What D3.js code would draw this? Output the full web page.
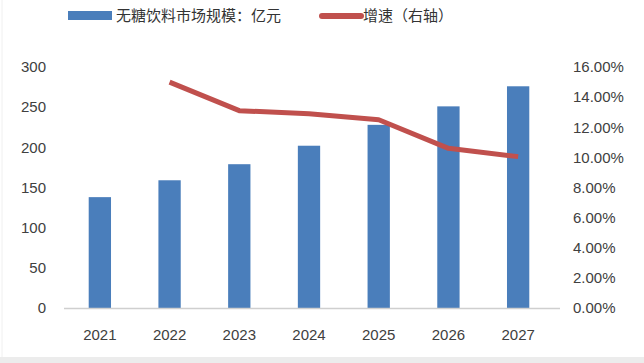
<!DOCTYPE html>
<html>
<head>
<meta charset="utf-8">
<script src="https://cdn.jsdelivr.net/npm/d3@7"></script>
<style>
  body { margin: 0; background: #fff; }
  svg { display: block; }
</style>
</head>
<body>
<div id="container"></div>
<script>
let w = 644;
let h = 363;

// data
let years = ["2021", "2022", "2023", "2024", "2025", "2026", "2027"];
let marketSize = [138, 159, 179, 202, 228, 251, 276];           // 亿元
let growthYears = ["2022", "2023", "2024", "2025", "2026", "2027"];
let growthRate = [0.150, 0.131, 0.129, 0.125, 0.106, 0.1005];
let leftTicks = [0, 50, 100, 150, 200, 250, 300];
let rightTicks = [0, 0.02, 0.04, 0.06, 0.08, 0.10, 0.12, 0.14, 0.16];

let viz = d3.select("#container")
  .append("svg")
    .attr("width", w)
    .attr("height", h)
    .style("background-color", "white");

// faint frame like the screenshot
viz.append("rect").attr("x", 0).attr("y", 357).attr("width", w).attr("height", 6).attr("fill", "#ececec");
viz.append("line").attr("x1", 2).attr("x2", 2).attr("y1", 0).attr("y2", 357).attr("stroke", "#f0f0f0");

let plotTop = 67;
let baseY = 308;

let xScale = d3.scaleBand().domain(years).range([65, 553]).paddingInner(0.68).paddingOuter(0.34);
let yScale = d3.scaleLinear().domain([0, 300]).range([baseY, plotTop]);
let y2Scale = d3.scaleLinear().domain([0, 0.16]).range([baseY, plotTop]);

let tickFont = "'Liberation Sans', Arial, sans-serif";

// bars
viz.append("g").selectAll("rect")
  .data(years)
  .enter()
  .append("rect")
    .attr("x", function(d){ return xScale(d); })
    .attr("y", function(d, i){ return yScale(marketSize[i]); })
    .attr("width", xScale.bandwidth())
    .attr("height", function(d, i){ return baseY - yScale(marketSize[i]); })
    .attr("fill", "#4a7ebb");

// baseline
viz.append("line")
  .attr("x1", 64).attr("x2", 560)
  .attr("y1", baseY + 0.5).attr("y2", baseY + 0.5)
  .attr("stroke", "#cfcfcf").attr("stroke-width", 1.5);

// left axis
let yAxis = d3.axisLeft(yScale).tickValues(leftTicks).tickSize(0).tickPadding(0);
let yAxisGroup = viz.append("g").attr("class", "yaxis").attr("transform", "translate(46, 0)");
yAxisGroup.call(yAxis);

// right axis
let y2Axis = d3.axisRight(y2Scale).tickValues(rightTicks).tickSize(0).tickPadding(0)
  .tickFormat(function(d){ return (d * 100).toFixed(2) + "%"; });
let y2AxisGroup = viz.append("g").attr("class", "y2axis").attr("transform", "translate(573, 0)");
y2AxisGroup.call(y2Axis);

// bottom axis
let xAxis = d3.axisBottom(xScale).tickSize(0).tickPadding(0);
let xAxisGroup = viz.append("g").attr("class", "xaxis").attr("transform", "translate(0, 329)");
xAxisGroup.call(xAxis);

viz.selectAll(".yaxis, .y2axis, .xaxis").selectAll(".domain").remove();
viz.selectAll(".yaxis text, .y2axis text, .xaxis text")
  .style("font-family", tickFont)
  .style("font-size", "15px")
  .attr("fill", "#404040");

// growth line
let line = d3.line()
  .x(function(d, i){ return xScale(growthYears[i]) + xScale.bandwidth() / 2; })
  .y(function(d){ return y2Scale(d); });

viz.append("path")
  .datum(growthRate)
  .attr("d", line)
  .attr("fill", "none")
  .attr("stroke", "#c0504d")
  .attr("stroke-width", 5)
  .attr("stroke-linejoin", "round");

// legend
let legendFont = "'Noto Sans CJK SC', sans-serif";
viz.append("rect").attr("x", 68).attr("y", 11).attr("width", 44).attr("height", 9).attr("fill", "#4a7ebb");
viz.append("text").attr("x", 116).attr("y", 21)
  .text("无糖饮料市场规模：亿元")
  .style("font-family", legendFont).style("font-size", "15px").attr("fill", "#333");

viz.append("line").attr("x1", 322).attr("x2", 361).attr("y1", 16).attr("y2", 16)
  .attr("stroke", "#c0504d").attr("stroke-width", 6).attr("stroke-linecap", "round");
viz.append("text").attr("x", 363).attr("y", 21)
  .text("增速（右轴）")
  .style("font-family", legendFont).style("font-size", "15px").attr("fill", "#333");
</script>
</body>
</html>
